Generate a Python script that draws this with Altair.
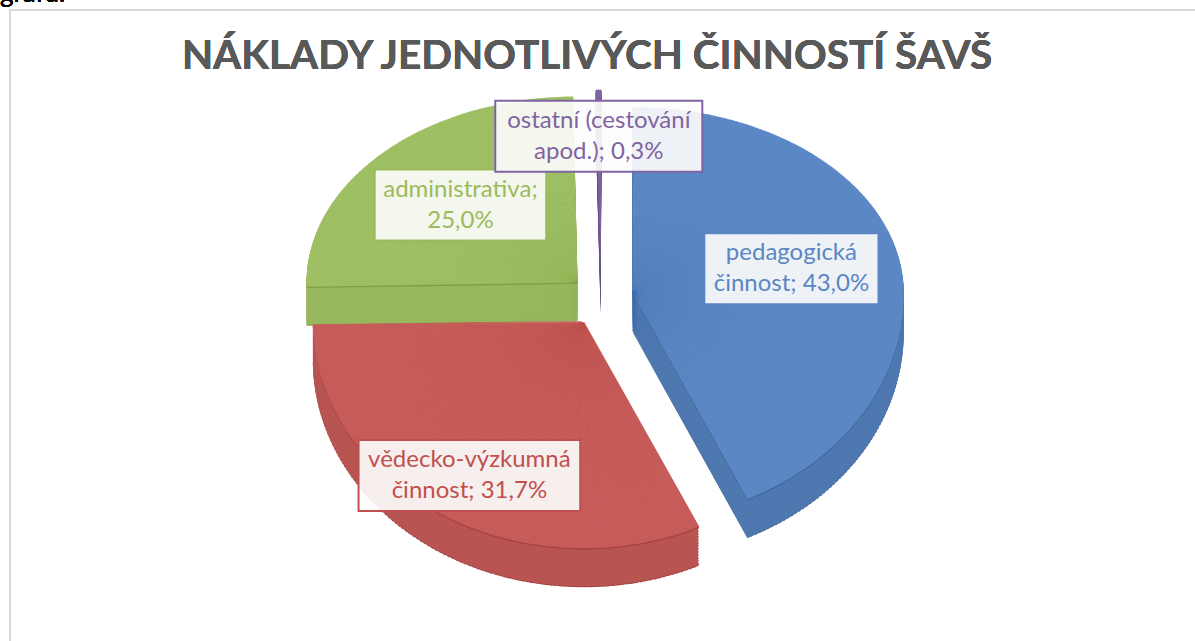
import math
import textwrap
import altair as alt
import pandas as pd

# ---------------- data ----------------
categories = [
    "pedagogická činnost",
    "vědecko-výzkumná činnost",
    "administrativa",
    "ostatní (cestování apod.)",
]
shares = [43.0, 31.7, 25.0, 0.3]
top_colors = ["#5b88c5", "#c65c59", "#9ebf63", "#8064a2"]
side_colors = ["#4f78b0", "#b85552", "#98b85e", "#6a5288"]
edge_colors = ["#41679d", "#a5433f", "#7f9f45", "#5e4880"]
text_colors = ["#5a86c3", "#c0504d", "#9bbb59", "#8064a2"]
title_text = "NÁKLADY JEDNOTLIVÝCH ČINNOSTÍ ŠAVŠ"
page_text = "grafu."

# ---------------- layout ----------------
W, H = 1195, 641
CX, CY = 601, 298          # pie centre
RX, RYT, RYB = 271, 186, 227  # ellipse radii (horizontal, upper, lower)
EXPLODE = 0.12
DEPTH = 38
LABEL_SIZE = 24
LINE_H = 31
BOX_H = 71
FONT = "Lato"


def text_width(s, size):
    w = 0.0
    for ch in s:
        if ch in "iíljI,;.:!|'":
            w += 0.24
        elif ch in "tfr()- ":
            w += 0.33
        elif ch in "mwMW%":
            w += 0.82
        elif ch.isdigit():
            w += 0.58
        else:
            w += 0.53
    return w * size


labels, box_w = [], []
for c, s in zip(categories, shares):
    pct = f"{s:.1f}".replace(".", ",") + "%"
    lab = textwrap.fill(f"{c}; {pct}", 18, break_on_hyphens=False)
    labels.append(lab)
    box_w.append(max(text_width(l, LABEL_SIZE) for l in lab.split("\n")) + 16)

df = pd.DataFrame({
    "category": categories,
    "share": shares,
    "idx": list(range(len(categories))),
    "label": labels,
    "box_w": box_w,
    "top_col": top_colors,
    "side_col": side_colors,
    "edge_col": edge_colors,
    "txt_col": text_colors,
})


def ry(a):
    return f"(cos({a}) >= 0 ? {RYT} : {RYB})"


def scr(a):
    return f"((atan2({RX}*sin({a}), {ry(a)}*cos({a})) + 2*PI) % (2*PI))"


def geom(chart):
    return (
        chart.transform_joinaggregate(total="sum(share)")
        .transform_window(cum="sum(share)", sort=[alt.SortField("idx", order="ascending")], frame=[None, 0])
        .transform_calculate(p0="2*PI*(datum.cum - datum.share)/datum.total")
        .transform_calculate(p1="2*PI*datum.cum/datum.total")
        .transform_calculate(pm="(datum.p0 + datum.p1)/2")
        .transform_calculate(ox=f"{CX} + {EXPLODE}*{RX}*sin(datum.pm)")
        .transform_calculate(oy=f"{CY} - {EXPLODE}*{ry('datum.pm')}*cos(datum.pm)")
    )


def wedges(step):
    base = geom(alt.Chart(df))
    return (
        base.transform_calculate(steps=f"sequence(0, ceil((datum.p1 - datum.p0)/{step}))")
        .transform_flatten(["steps"], as_=["k"])
        .transform_calculate(a0=f"datum.p0 + datum.k*{step}")
        .transform_calculate(a1=f"min(datum.p1, datum.a0 + {step})")
        .transform_calculate(am="(datum.a0 + datum.a1)/2")
        .transform_calculate(t0=scr("datum.a0"))
        .transform_calculate(t1r=scr("datum.a1"))
        .transform_calculate(t1="(datum.t1r <= datum.t0 ? datum.t1r + 2*PI : datum.t1r) + 0.004")
        .transform_calculate(r=f"sqrt(pow({RX}*sin(datum.am), 2) + pow({ry('datum.am')}*cos(datum.am), 2))")
    )


def pie_layer(base, colfield, yoff):
    return base.mark_arc(yOffset=yoff).encode(
        x=alt.X("ox:Q", scale=None, axis=None),
        y=alt.Y("oy:Q", scale=None, axis=None),
        theta=alt.Theta("t0:Q", scale=None, stack=False),
        theta2=alt.Theta2("t1:Q"),
        radius=alt.Radius("r:Q", scale=None),
        color=alt.Color(f"{colfield}:N", scale=None, legend=None),
    )


side_base = wedges(math.pi / 180)
top_base = wedges(math.pi / 360)

layers = []

# frame
frame = alt.Chart(df).mark_rect(fill="white", stroke="#d9d9d9", strokeWidth=2).encode(
    x=alt.value(10), x2=alt.value(W + 20), y=alt.value(10), y2=alt.value(H + 20)
)
layers.append(frame)

page = alt.Chart(df).mark_text(
    text=page_text, font=FONT, fontSize=26, color="#000000", align="left", baseline="alphabetic"
).encode(x=alt.value(0), y=alt.value(2))
layers.append(page)

title = alt.Chart(df).mark_text(
    text=title_text, font=FONT, fontSize=40.5, fontWeight="bold", color="#595959",
    align="center", baseline="alphabetic",
).encode(x=alt.value(587), y=alt.value(69))
layers.append(title)

layers.append(pie_layer(side_base, "edge_col", DEPTH + 1))
for d in list(range(DEPTH, 1, -3)):
    layers.append(pie_layer(side_base, "side_col", d))
layers.append(pie_layer(top_base, "edge_col", 1.3))
layers.append(pie_layer(top_base, "top_col", 0))

lab_base = (
    geom(alt.Chart(df))
    .transform_calculate(lf="datum.share < 1 ? 0.75 : (cos(datum.pm) >= 0 ? 0.6 : 0.8)")
    .transform_calculate(lx=f"datum.ox + datum.lf*{RX}*sin(datum.pm)")
    .transform_calculate(ly=f"datum.oy - datum.lf*{ry('datum.pm')}*cos(datum.pm)")
    .transform_calculate(bx0="datum.lx - datum.box_w/2", bx1="datum.lx + datum.box_w/2")
    .transform_calculate(by0=f"datum.ly - {BOX_H}/2", by1=f"datum.ly + {BOX_H}/2")
)

shadow = lab_base.mark_rect(fill="#000000", opacity=0.10, xOffset=3, yOffset=3).encode(
    x=alt.X("bx0:Q", scale=None, axis=None), x2="bx1:Q",
    y=alt.Y("by0:Q", scale=None, axis=None), y2="by1:Q",
)
box = lab_base.mark_rect(fill="#ffffff", fillOpacity=0.9, strokeWidth=2).encode(
    x=alt.X("bx0:Q", scale=None, axis=None), x2="bx1:Q",
    y=alt.Y("by0:Q", scale=None, axis=None), y2="by1:Q",
    stroke=alt.Stroke("txt_col:N", scale=None, legend=None),
)
txt = lab_base.mark_text(
    font=FONT, fontSize=LABEL_SIZE, lineBreak="\n", lineHeight=LINE_H, align="center",
    baseline="middle", dy=-LINE_H / 2,
).encode(
    x=alt.X("lx:Q", scale=None, axis=None),
    y=alt.Y("ly:Q", scale=None, axis=None),
    text="label:N",
    color=alt.Color("txt_col:N", scale=None, legend=None),
)
layers += [shadow, box, txt]

chart = alt.layer(*layers).properties(
    width=W, height=H, padding=0, autosize=alt.AutoSizeParams(type="none"), background="white"
).configure_view(strokeWidth=0)

chart.save("out.html", embed_options={"renderer": "svg", "actions": False})
